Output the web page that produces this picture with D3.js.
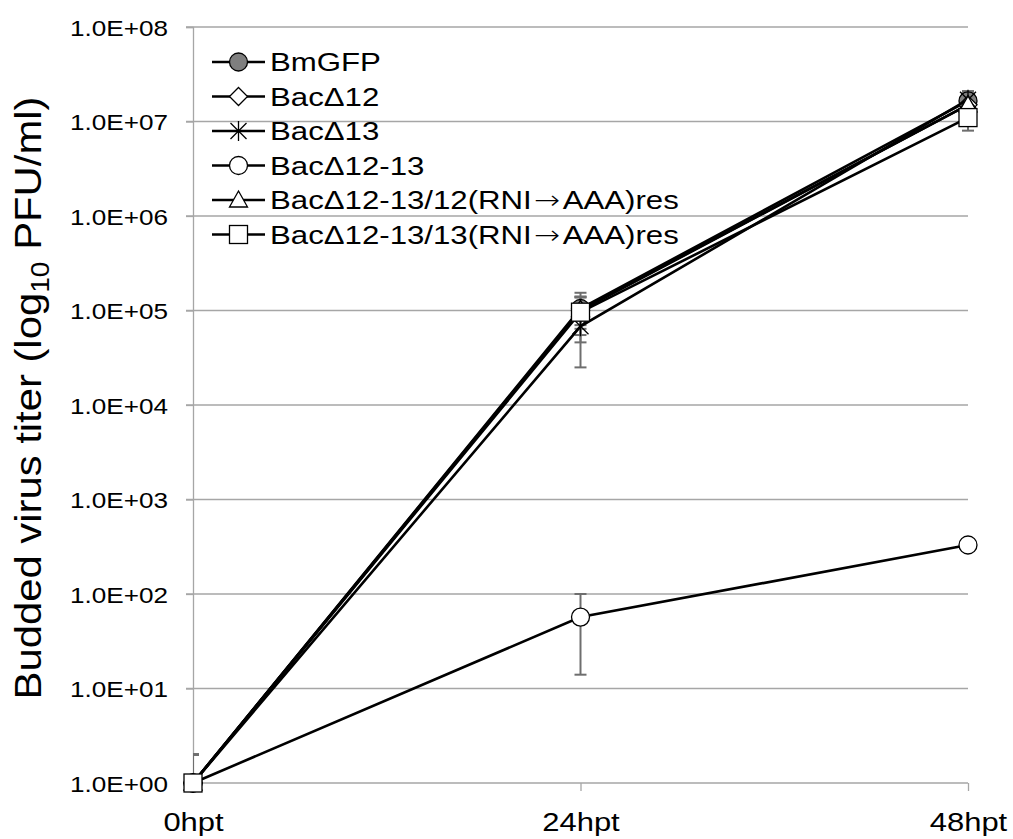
<!DOCTYPE html>
<html>
<head>
<meta charset="utf-8">
<script src="https://cdn.jsdelivr.net/npm/d3@7"></script>
<style>
  body { margin: 0; background: #fff; }
  text { font-family: Arial, "Liberation Sans", sans-serif; fill: #000; }
</style>
</head>
<body>
<svg width="1013" height="839"></svg>
<script>
// timepoints on the category axis
const timepoints = ['0hpt', '24hpt', '48hpt'];
const yTicks = [1e0, 1e1, 1e2, 1e3, 1e4, 1e5, 1e6, 1e7, 1e8];

const seriesNames = [
    'BmGFP', 'Bac\u039412', 'Bac\u039413', 'Bac\u039412-13',
    'Bac\u039412-13/12(RNI\u2192AAA)res', 'Bac\u039412-13/13(RNI\u2192AAA)res'
];
const seriesMarkers = ['circleFilled', 'diamond', 'star', 'circle', 'triangle', 'square'];

// titers (PFU/ml) and their standard deviations
const bmgfp = [1, 1.05e5, 1.65e7];
const bmgfpErr = [1, 3.5e4, 4.5e6];
const bac12 = [1, 1.0e5, 1.5e7];
const bac12Err = [1, 5.4e4, 4e6];
const bac13 = [1, 6.8e4, 1.7e7];
const bac13Err = [1, 4.3e4, 3e6];
const bac1213 = [1, 57, 330];
const bac1213Err = [1, 43, 20];
const res12 = [1, 1.02e5, 1.5e7];
const res12Err = [1, 3.8e4, 3.5e6];
const res13 = [1, 9.6e4, 1.1e7];
const res13Err = [1, 4.1e4, 3e6];

const seriesValues = [bmgfp, bac12, bac13, bac1213, res12, res13];
const seriesErrors = [bmgfpErr, bac12Err, bac13Err, bac1213Err, res12Err, res13Err];

const svg = d3.select("svg");

const plotLeft = 193, plotRight = 968, plotTop = 27, plotBottom = 783;
const x = d3.scalePoint().domain(timepoints).range([plotLeft, plotRight]);
const y = d3.scaleLog().domain([1, 1e8]).range([plotBottom, plotTop]);

// text in the picture is a bit wider than Arial at its height
const wide = 1.16;

svg.append("defs").append("clipPath").attr("id", "plotClip")
    .append("rect")
    .attr("x", plotLeft).attr("y", plotTop - 20)
    .attr("width", plotRight - plotLeft + 30).attr("height", plotBottom - plotTop + 20);

// gridlines
svg.append("g").selectAll("line").data(yTicks.slice(1)).enter()
    .append("line")
    .attr("x1", plotLeft - 7).attr("x2", plotRight)
    .attr("y1", d => y(d)).attr("y2", d => y(d))
    .attr("stroke", "#a6a6a6").attr("stroke-width", 1.3);

// y axis
const yAxis = d3.axisLeft(y).tickValues(yTicks)
    .tickFormat(d => d3.format(".1e")(d).toUpperCase().replace(/E([+-])(\d)$/, "E$10$2"))
    .tickSize(7);
const yg = svg.append("g").attr("transform", `translate(${plotLeft},0)`).call(yAxis);
yg.select(".domain").attr("stroke", "#a6a6a6").attr("stroke-width", 1.3);
yg.selectAll(".tick line").attr("stroke", "#a6a6a6").attr("stroke-width", 1.3);
yg.selectAll(".tick text")
    .attr("x", 0).attr("dy", "0.36em")
    .attr("transform", `translate(-25,0) scale(${wide},1)`)
    .style("font-size", "22.5px").attr("fill", "#000")
    .style("font-family", "Arial, 'Liberation Sans', sans-serif");

// x axis
const xAxis = d3.axisBottom(x).tickSize(0);
const xg = svg.append("g").attr("transform", `translate(0,${plotBottom})`).call(xAxis);
xg.select(".domain").remove();
xg.append("line").attr("x1", plotLeft).attr("x2", plotRight)
    .attr("stroke", "#a6a6a6").attr("stroke-width", 1.3);
xg.selectAll(".tick").append("line").attr("y2", 8)
    .attr("stroke", "#a6a6a6").attr("stroke-width", 1.3);
xg.selectAll(".tick text")
    .attr("y", 0).attr("dy", 0)
    .attr("transform", "translate(0,48) scale(1.19,1)")
    .style("font-size", "26px").attr("fill", "#000")
    .style("font-family", "Arial, 'Liberation Sans', sans-serif");

// y axis title
const title = svg.append("text")
    .attr("transform", "translate(41,398) rotate(-90) scale(1.13,1)")
    .attr("text-anchor", "middle")
    .style("font-size", "37px");
title.append("tspan").text("Budded virus titer (log");
title.append("tspan").attr("dy", 8).style("font-size", "25px").text("10");
title.append("tspan").attr("dy", -8).text(" PFU/ml)");

// error bars
const errG = svg.append("g").attr("clip-path", "url(#plotClip)");
seriesValues.forEach((vals, si) => {
    vals.forEach((v, i) => {
        const e = seriesErrors[si][i];
        const cx = x(timepoints[i]);
        const top = y(v + e);
        const bot = v - e > 0 ? y(v - e) : plotBottom + 5;
        errG.append("line").attr("x1", cx).attr("x2", cx)
            .attr("y1", top).attr("y2", bot)
            .attr("stroke", "#6e6e6e").attr("stroke-width", 2);
        errG.append("line").attr("x1", cx - 6).attr("x2", cx + 6)
            .attr("y1", top).attr("y2", top)
            .attr("stroke", "#6e6e6e").attr("stroke-width", 2);
        if (v - e > 0) {
            errG.append("line").attr("x1", cx - 6).attr("x2", cx + 6)
                .attr("y1", bot).attr("y2", bot)
                .attr("stroke", "#6e6e6e").attr("stroke-width", 2);
        }
    });
});

// marker drawing
const drawMarker = (g, type) => {
    let m;
    if (type === 'circleFilled') m = g.append("circle").attr("r", 9).attr("fill", "#7f7f7f");
    else if (type === 'circle') m = g.append("circle").attr("r", 9).attr("fill", "#fff");
    else if (type === 'square') m = g.append("rect").attr("x", -9).attr("y", -9).attr("width", 18).attr("height", 18).attr("fill", "#fff");
    else if (type === 'diamond') m = g.append("path").attr("d", "M0,-9L9,0L0,9L-9,0Z").attr("fill", "#fff");
    else if (type === 'triangle') m = g.append("path").attr("d", "M0,-9L9,7L-9,7Z").attr("fill", "#fff");
    else if (type === 'star') m = g.append("path").attr("d", "M-8,-8L8,8M-8,8L8,-8M0,-10L0,10").attr("fill", "none");
    m.attr("stroke", "#000").attr("stroke-width", 1.3);
};

const line = d3.line().x((d, i) => x(timepoints[i])).y(d => y(d));

seriesValues.forEach((vals, si) => {
    const g = svg.append("g");
    g.append("path").datum(vals).attr("d", line)
        .attr("fill", "none").attr("stroke", "#000").attr("stroke-width", 2.6);
    vals.forEach((v, i) => {
        const mg = g.append("g").attr("transform", `translate(${x(timepoints[i])},${y(v)})`);
        drawMarker(mg, seriesMarkers[si]);
    });
});

// legend
const legend = svg.append("g").attr("transform", "translate(212,62)");
seriesNames.forEach((name, i) => {
    const row = legend.append("g").attr("transform", `translate(0,${i * 34.5})`);
    row.append("line").attr("x1", 0).attr("x2", 53)
        .attr("stroke", "#000").attr("stroke-width", 2.6);
    drawMarker(row.append("g").attr("transform", "translate(26.5,0)"), seriesMarkers[i]);
    const t = row.append("text")
        .attr("transform", "translate(58,9) scale(1.2,1)")
        .style("font-size", "26px");
    // the arrow in the picture is a long glyph with a little room round it
    let afterArrow = false;
    name.split(/(\u2192)/).forEach(part => {
        const ts = t.append("tspan").text(part);
        if (part === '\u2192') {
            ts.attr("dx", 2).style("font-family", "'DejaVu Sans', sans-serif").style("font-weight", 300);
            afterArrow = true;
        } else if (afterArrow) {
            ts.attr("dx", 2);
        }
    });
});
</script>
</body>
</html>
